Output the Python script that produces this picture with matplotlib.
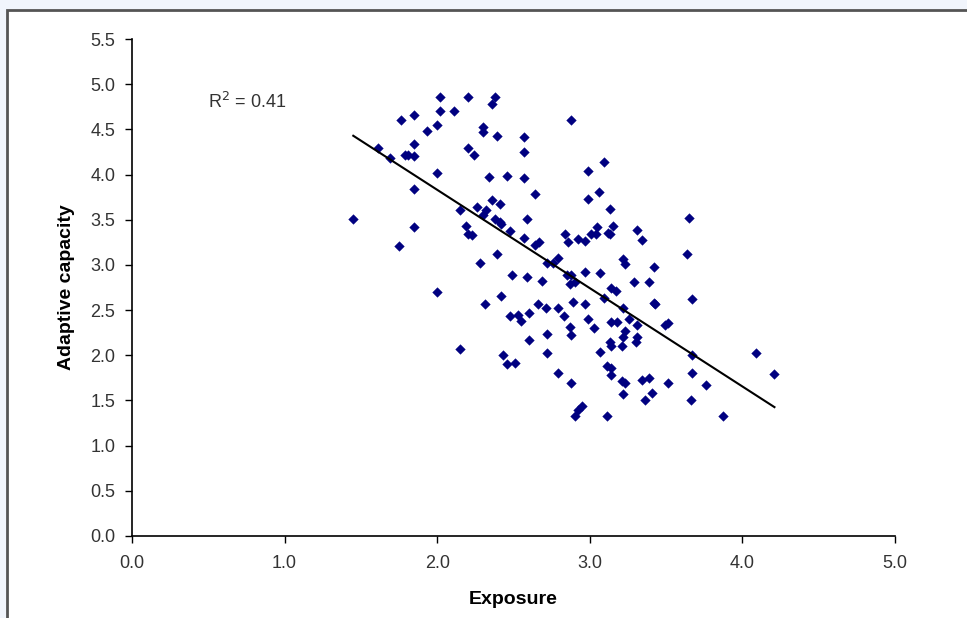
import numpy as np
import matplotlib.pyplot as plt
from matplotlib.patches import Rectangle

plt.rcParams['font.family'] = ['Liberation Sans', 'DejaVu Sans']

# values (same order in both lists)
exposure = [
    1.45, 1.61, 1.69, 1.75, 1.76, 1.79, 1.81, 1.85, 1.85, 1.85, 1.85, 1.85,
    1.93, 2.00, 2.00, 2.00, 2.02, 2.02, 2.11, 2.15, 2.15, 2.19, 2.20, 2.20,
    2.20, 2.23, 2.24, 2.26, 2.28, 2.30, 2.30, 2.30, 2.31, 2.32, 2.34, 2.36,
    2.36, 2.38, 2.38, 2.39, 2.39, 2.41, 2.41, 2.42, 2.42, 2.43, 2.46, 2.46,
    2.48, 2.48, 2.49, 2.51, 2.53, 2.55, 2.57, 2.57, 2.57, 2.57, 2.59, 2.59,
    2.60, 2.60, 2.64, 2.64, 2.66, 2.67, 2.69, 2.71, 2.72, 2.72, 2.72, 2.76,
    2.79, 2.79, 2.79, 2.83, 2.84, 2.85, 2.86, 2.87, 2.87, 2.88, 2.88, 2.88,
    2.88, 2.89, 2.90, 2.90, 2.92, 2.92, 2.95, 2.97, 2.97, 2.97, 2.99, 2.99,
    2.99, 3.01, 3.03, 3.04, 3.05, 3.06, 3.07, 3.07, 3.09, 3.09, 3.11, 3.11,
    3.12, 3.13, 3.13, 3.13, 3.14, 3.14, 3.14, 3.14, 3.14, 3.15, 3.17, 3.18,
    3.21, 3.21, 3.22, 3.22, 3.22, 3.22, 3.23, 3.23, 3.23, 3.26, 3.29, 3.30,
    3.31, 3.31, 3.31, 3.34, 3.34, 3.36, 3.39, 3.39, 3.41, 3.42, 3.42, 3.43,
    3.49, 3.51, 3.51, 3.64, 3.65, 3.66, 3.67, 3.67, 3.67, 3.76, 3.87, 4.09,
    4.21,
]
adaptive_capacity = [
    3.51, 4.29, 4.18, 3.21, 4.60, 4.22, 4.22, 4.66, 4.34, 4.21, 3.84, 3.42,
    4.48, 4.55, 4.02, 2.70, 4.86, 4.70, 4.70, 3.61, 2.07, 3.43, 4.86, 4.29,
    3.34, 3.33, 4.22, 3.64, 3.02, 4.53, 4.47, 3.55, 2.57, 3.61, 3.97, 4.78,
    3.72, 4.86, 3.51, 4.43, 3.12, 3.67, 3.47, 3.45, 2.66, 2.00, 3.98, 1.90,
    3.37, 2.43, 2.89, 1.91, 2.45, 2.38, 4.41, 4.25, 3.96, 3.30, 3.51, 2.87,
    2.47, 2.17, 3.78, 3.22, 2.57, 3.25, 2.82, 2.52, 3.02, 2.24, 2.02, 3.02,
    3.08, 2.52, 1.80, 2.43, 3.34, 2.89, 3.25, 2.79, 2.31, 4.60, 2.89, 2.22,
    1.69, 2.59, 2.81, 1.33, 3.29, 1.39, 1.44, 3.26, 2.92, 2.57, 4.04, 3.73,
    2.40, 3.34, 2.30, 3.34, 3.42, 3.81, 2.91, 2.04, 4.14, 2.63, 1.88, 1.33,
    3.35, 3.62, 3.34, 2.15, 2.74, 2.37, 2.10, 1.86, 1.78, 3.43, 2.71, 2.37,
    2.10, 1.72, 3.07, 2.52, 2.20, 1.57, 3.01, 2.27, 1.69, 2.40, 2.81, 2.15,
    3.39, 2.33, 2.20, 3.28, 1.73, 1.50, 2.81, 1.75, 1.58, 2.98, 2.58, 2.57,
    2.34, 2.36, 1.69, 3.12, 3.52, 1.50, 2.62, 2.00, 1.80, 1.67, 1.33, 2.03,
    1.79,
]
r2_label = 'R$^2$ = 0.41'

fig = plt.figure(figsize=(9.67, 6.18), dpi=100)
fig.patch.set_facecolor('#f1f5fc')
# white chart panel with dark border (cut off at right/bottom like the screenshot)
panel = Rectangle((7 / 967, -0.05), 1.05, 1 - 10 / 618 + 0.05, transform=fig.transFigure,
                  facecolor='white', edgecolor='#555555', linewidth=2, zorder=-10)
fig.patches.append(panel)

ax = fig.add_axes([132 / 967, 1 - 536 / 618, (895 - 132) / 967, (536 - 39) / 618])
ax.set_facecolor('none')

ax.scatter(exposure, adaptive_capacity, marker='D', s=24, color='#000080',
           edgecolors='#000080', linewidths=0.3, zorder=3)

# linear trendline
x = np.array(exposure)
y = np.array(adaptive_capacity)
m, b = np.polyfit(x, y, 1)
xs = np.array([x.min(), x.max()])
ax.plot(xs, m * xs + b, color='black', lw=1.5, zorder=4)

ax.text(0.5, 4.8, r2_label, fontsize=13, color='#333333', ha='left', va='center')

ax.set_xlim(0, 5)
ax.set_ylim(0, 5.5)
ax.set_xticks(np.arange(0, 5.01, 1.0))
ax.set_yticks(np.arange(0, 5.51, 0.5))
ax.xaxis.set_major_formatter(plt.FormatStrFormatter('%.1f'))
ax.yaxis.set_major_formatter(plt.FormatStrFormatter('%.1f'))
ax.tick_params(direction='out', length=5, width=1, labelsize=13, colors='black',
               labelcolor='#333333')
ax.tick_params(axis='x', pad=9)
ax.tick_params(axis='y', pad=7)
for s in ['top', 'right']:
    ax.spines[s].set_visible(False)
for s in ['left', 'bottom']:
    ax.spines[s].set_linewidth(1.2)

ax.set_xlabel('Exposure', fontsize=14, fontweight='bold', labelpad=13)
ax.set_ylabel('Adaptive capacity', fontsize=14, fontweight='bold', labelpad=11)

fig.savefig('out.png', dpi=100, facecolor=fig.get_facecolor())
